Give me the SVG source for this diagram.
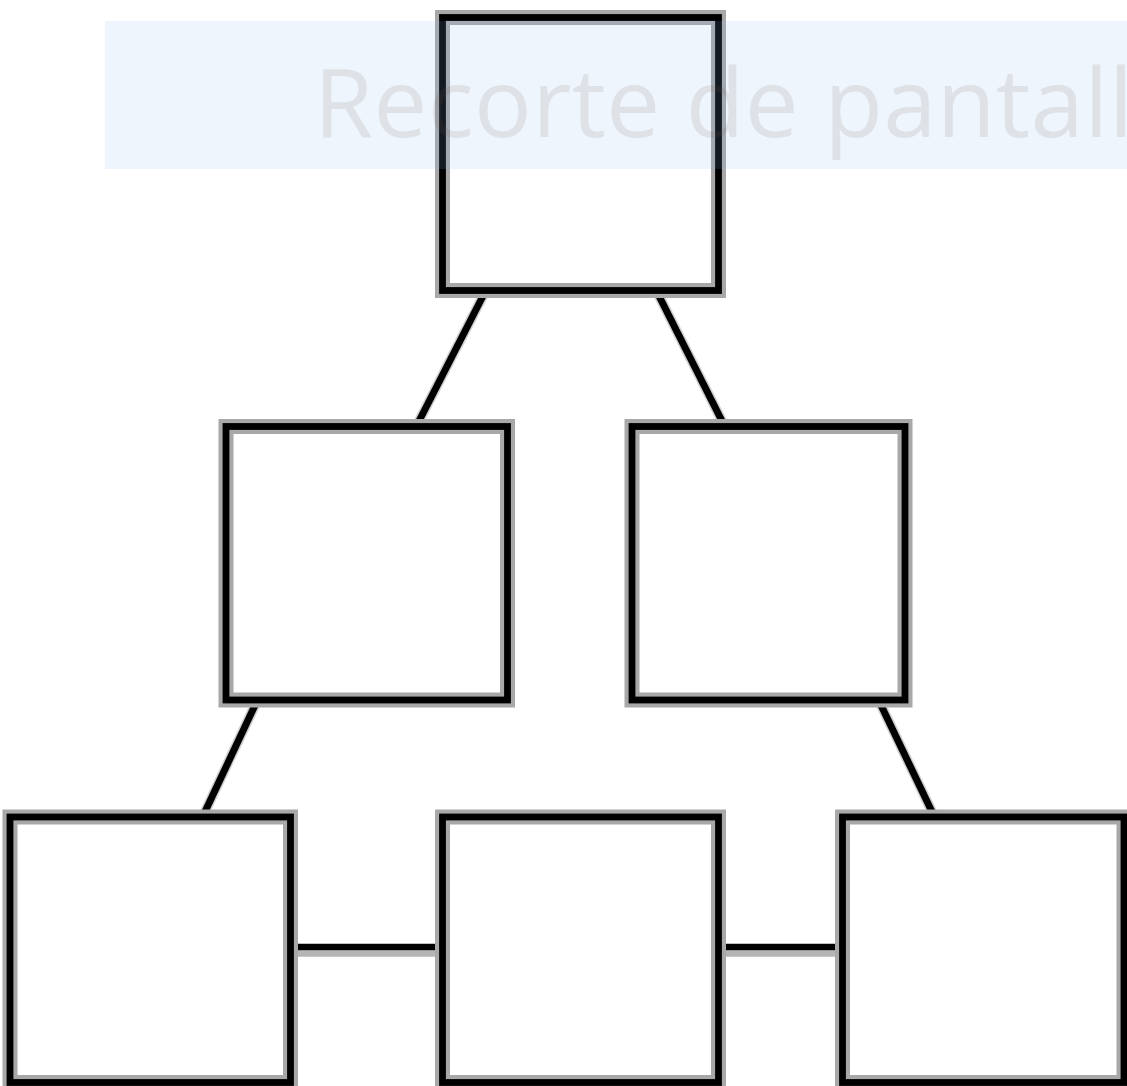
<svg xmlns="http://www.w3.org/2000/svg" width="1127" height="1086" viewBox="0 0 1127 1086">
  <style>
    .halo { fill: none; stroke: #a8a8a8; stroke-width: 15; }
    .box { fill: none; stroke: #000000; stroke-width: 6.8; }
    .lhalo { stroke: #cfcfcf; stroke-width: 10; stroke-linecap: butt; }
    .line { stroke: #000000; stroke-width: 7; stroke-linecap: butt; }
    .hline { stroke: #000000; stroke-width: 6.6; }
    .hshade { stroke: #b5b5b5; stroke-width: 6.6; }
    .banner { fill: rgb(140,185,240); fill-opacity: 0.14; }
    .caption { font-family: "Open Sans", "Noto Sans", sans-serif; font-size: 96px; fill: #6a5a48; fill-opacity: 0.13; }
  </style>
  <rect x="0" y="0" width="1127" height="1086" fill="#ffffff"/>

  <g id="connectors">
    <line class="lhalo" x1="485" y1="292" x2="417" y2="425"/>
    <line class="lhalo" x1="657" y1="292" x2="724" y2="425"/>
    <line class="lhalo" x1="257" y1="701" x2="203" y2="816"/>
    <line class="lhalo" x1="879" y1="701" x2="934" y2="816"/>
    <line class="hshade" x1="292" y1="953.5" x2="440" y2="953.5"/>
    <line class="hshade" x1="720" y1="953.5" x2="840" y2="953.5"/>
    <line class="line" x1="485" y1="292" x2="417" y2="425"/>
    <line class="line" x1="657" y1="292" x2="724" y2="425"/>
    <line class="line" x1="257" y1="701" x2="203" y2="816"/>
    <line class="line" x1="879" y1="701" x2="934" y2="816"/>
    <line class="hline" x1="292" y1="947" x2="440" y2="947"/>
    <line class="hline" x1="720" y1="947" x2="840" y2="947"/>
  </g>

  <g id="node-top">
    <rect class="halo" x="442.5" y="17.5" width="276" height="273"/>
    <rect class="box" x="442.5" y="17.5" width="276" height="273"/>
  </g>
  <g id="node-mid-left">
    <rect class="halo" x="226" y="426.5" width="281.5" height="273.5"/>
    <rect class="box" x="226" y="426.5" width="281.5" height="273.5"/>
  </g>
  <g id="node-mid-right">
    <rect class="halo" x="632" y="426.5" width="273" height="273.5"/>
    <rect class="box" x="632" y="426.5" width="273" height="273.5"/>
  </g>
  <g id="node-bottom-left">
    <rect class="halo" x="10" y="817" width="280.5" height="265.5"/>
    <rect class="box" x="10" y="817" width="280.5" height="265.5"/>
  </g>
  <g id="node-bottom-mid">
    <rect class="halo" x="442.5" y="817" width="276" height="265.5"/>
    <rect class="box" x="442.5" y="817" width="276" height="265.5"/>
  </g>
  <g id="node-bottom-right">
    <rect class="halo" x="842.5" y="817" width="281.5" height="265.5"/>
    <rect class="box" x="842.5" y="817" width="281.5" height="265.5"/>
  </g>

  <g id="overlay">
    <rect class="banner" x="105" y="21" width="1022" height="148"/>
    <text class="caption" x="314" y="137" textLength="819" lengthAdjust="spacing">Recorte de pantall</text>
  </g>
</svg>
